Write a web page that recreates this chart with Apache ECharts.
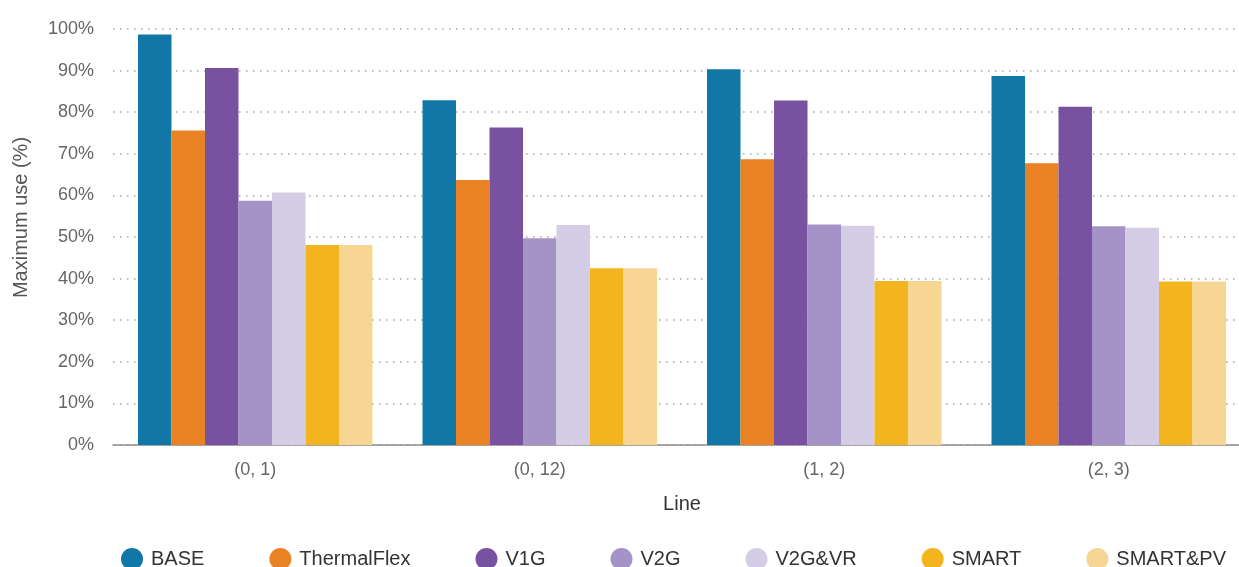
<!DOCTYPE html>
<html>
<head>
<meta charset="utf-8">
<script src="https://cdn.jsdelivr.net/npm/echarts@6/dist/echarts.min.js"></script>
<style>
  html, body { margin: 0; padding: 0; background: #fff; overflow: hidden; }
  /* the plot runs a little past the right edge of the page */
  #chart { width: 1251px; height: 567px; }
</style>
</head>
<body>
<div id="chart"></div>
<script>
// Line segments on the x axis
const categories = ['(0, 1)', '(0, 12)', '(1, 2)', '(2, 3)'];

// Maximum use per scenario, in percent
const base        = [98.7, 82.9, 90.3, 88.7];
const thermalFlex = [75.6, 63.7, 68.7, 67.7];
const v1g         = [90.6, 76.3, 82.8, 81.3];
const v2g         = [58.7, 49.7, 53.0, 52.6];
const v2gvr       = [60.7, 52.9, 52.7, 52.2];
const smart       = [48.1, 42.5, 39.4, 39.3];
const smartPv     = [48.1, 42.5, 39.4, 39.3];

// Y axis ticks
const yTicks = [0, 10, 20, 30, 40, 50, 60, 70, 80, 90, 100];

const seriesDefs = [
  { name: 'BASE',        data: base,        color: '#1177a7' },
  { name: 'ThermalFlex', data: thermalFlex, color: '#e98125' },
  { name: 'V1G',         data: v1g,         color: '#7851a0' },
  { name: 'V2G',         data: v2g,         color: '#a592c6' },
  { name: 'V2G&VR',      data: v2gvr,       color: '#d5cde6' },
  { name: 'SMART',       data: smart,       color: '#f2b51e' },
  { name: 'SMART&PV',    data: smartPv,     color: '#f7d593' }
];

const FONT = "'Liberation Sans', Arial, sans-serif";

const chart = echarts.init(document.getElementById('chart'), null, { renderer: 'canvas' });

chart.setOption({
  animation: false,
  backgroundColor: '#ffffff',
  textStyle: { fontFamily: FONT },
  grid: { left: 113, top: 29, right: 0, height: 416, containLabel: false },
  legend: {
    left: 121,
    top: 548,
    padding: 0,
    itemGap: 65,
    itemWidth: 22,
    itemHeight: 22,
    icon: 'circle',
    textStyle: { fontFamily: FONT, fontSize: 20, color: '#333', padding: [0, 0, 0, 3] },
    data: seriesDefs.map(s => s.name)
  },
  xAxis: {
    type: 'category',
    data: categories,
    name: 'Line',
    nameLocation: 'middle',
    nameGap: 49,
    nameTextStyle: { fontFamily: FONT, fontSize: 20, color: '#333' },
    axisLine: { show: true, lineStyle: { color: '#8c8c8c', width: 1.5 } },
    axisTick: { show: false },
    axisLabel: { fontFamily: FONT, fontSize: 18, color: '#666', margin: 16 },
    splitLine: { show: false }
  },
  yAxis: {
    type: 'value',
    min: yTicks[0],
    max: yTicks[yTicks.length - 1],
    interval: yTicks[1] - yTicks[0],
    name: 'Maximum use (%)',
    nameLocation: 'middle',
    nameGap: 82,
    nameTextStyle: { fontFamily: FONT, fontSize: 20, color: '#555', padding: [0, 0, 0, 39] },
    axisLine: { show: false },
    axisTick: { show: false },
    axisLabel: { fontFamily: FONT, fontSize: 18, color: '#666', margin: 19, formatter: '{value}%' },
    splitLine: { show: true, lineStyle: { color: '#a6a6a6', width: 1.5, type: [1.5, 5.5] } }
  },
  series: seriesDefs.map(s => ({
    name: s.name,
    type: 'bar',
    data: s.data,
    barWidth: 33.5,
    barGap: '0%',
    itemStyle: { color: s.color },
    emphasis: { disabled: true }
  }))
});
</script>
</body>
</html>
